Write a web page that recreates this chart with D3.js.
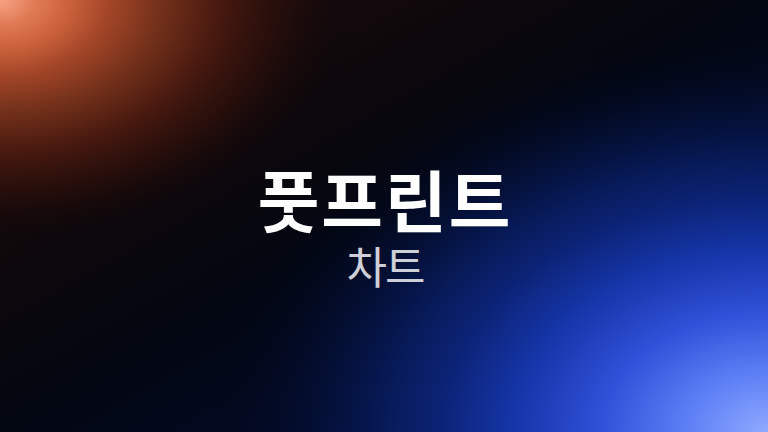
<!DOCTYPE html>
<html>
<head>
<meta charset="utf-8">
<script src="https://cdn.jsdelivr.net/npm/d3@7"></script>
<style>
  html, body { margin: 0; padding: 0; background: #020611; overflow: hidden; }
</style>
</head>
<body>
<div id="chart"></div>
<script>
// title card texts
var titles = ["풋프린트"];
var subtitles = ["차트"];

// colour stops: offset, colour, opacity
var baseStops = [[0, "#2a1010", 1], [0.3, "#0e080b", 1], [0.5, "#020611", 1], [0.7, "#030a26", 1], [1, "#0a2060", 1]];
var warmStops = [[0, "#f8a384", 1], [0.1, "#e07a55", 1], [0.2, "#c8603a", 1], [0.3, "#a44628", 1],
  [0.45, "#72301a", 1], [0.6, "#4a1a10", 1], [0.75, "#2e100b", 0.8], [0.9, "#160809", 0.4], [1, "#020611", 0]];
var coolStops = [[0, "#90aaff", 1], [0.15, "#5c7ef5", 1], [0.3, "#3050d8", 1], [0.45, "#1636aa", 1],
  [0.58, "#0c2478", 1], [0.7, "#071a58", 0.9], [0.85, "#030e32", 0.5], [1, "#020611", 0]];

var width = 768, height = 432;

var svg = d3.select("#chart")
  .append("svg")
  .attr("width", width)
  .attr("height", height);

var defs = svg.append("defs");

function addStops(g, stops) {
  g.selectAll("stop")
    .data(stops)
    .enter().append("stop")
    .attr("offset", function(d) { return d[0]; })
    .attr("stop-color", function(d) { return d[1]; })
    .attr("stop-opacity", function(d) { return d[2]; });
}

// elliptical glow anchored in a corner
function glow(id, cx, cy, rx, ry, stops) {
  var g = defs.append("radialGradient")
    .attr("id", id)
    .attr("gradientUnits", "userSpaceOnUse")
    .attr("cx", 0).attr("cy", 0).attr("r", 1)
    .attr("gradientTransform", "translate(" + cx + "," + cy + ") scale(" + rx + "," + ry + ")");
  addStops(g, stops);
}

// diagonal base wash, warm top-left to cool bottom-right
addStops(defs.append("linearGradient")
  .attr("id", "base")
  .attr("x1", 0).attr("y1", 0).attr("x2", 1).attr("y2", 1), baseStops);

glow("warm", 0, 0, 360, 250, warmStops);
glow("cool", width, height, 560, 400, coolStops);

svg.append("rect").attr("width", width).attr("height", height).attr("fill", "url(#base)");
svg.append("rect").attr("width", width).attr("height", height).attr("fill", "url(#warm)");
svg.append("rect").attr("width", width).attr("height", height).attr("fill", "url(#cool)");

var font = "'Noto Sans CJK KR', 'Noto Sans', sans-serif";

svg.selectAll(".title")
  .data(titles)
  .enter().append("text")
  .attr("class", "title")
  .attr("x", width / 2 + 1)
  .attr("y", 227)
  .attr("text-anchor", "middle")
  .attr("fill", "#ffffff")
  .style("font-family", font)
  .style("font-weight", 700)
  .style("font-size", "67px")
  .style("letter-spacing", "2px")
  .text(function(d) { return d; });

svg.selectAll(".subtitle")
  .data(subtitles)
  .enter().append("text")
  .attr("class", "subtitle")
  .attr("x", width / 2 + 1)
  .attr("y", 284)
  .attr("text-anchor", "middle")
  .attr("fill", "#cdd0d8")
  .style("font-family", font)
  .style("font-weight", 400)
  .style("font-size", "44px")
  .style("letter-spacing", "-2px")
  .text(function(d) { return d; });
</script>
</body>
</html>
